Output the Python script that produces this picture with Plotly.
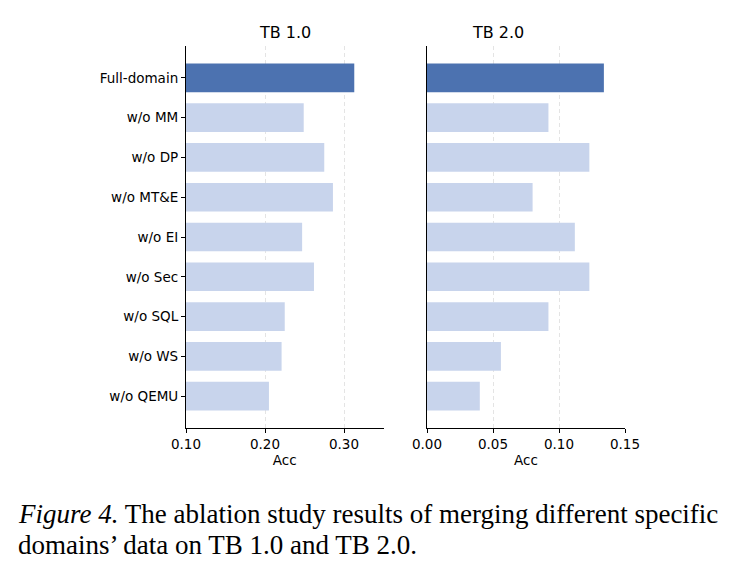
import plotly.graph_objects as go

categories = ["Full-domain", "w/o MM", "w/o DP", "w/o MT&E", "w/o EI",
              "w/o Sec", "w/o SQL", "w/o WS", "w/o QEMU"]
tb1_acc = [0.313, 0.249, 0.275, 0.286, 0.247, 0.262, 0.225, 0.221, 0.205]
tb2_acc = [0.134, 0.092, 0.123, 0.080, 0.112, 0.123, 0.092, 0.056, 0.040]
tb1_ticks = [0.10, 0.20, 0.30]
tb1_ticklabels = ["0.10", "0.20", "0.30"]
tb2_ticks = [0.00, 0.05, 0.10, 0.15]
tb2_ticklabels = ["0.00", "0.05", "0.10", "0.15"]

dark = "#4C72B0"
light = "#C8D4EC"
colors = [dark] + [light] * (len(categories) - 1)

fig = go.Figure()
fig.add_trace(go.Bar(y=categories, x=tb1_acc, orientation="h", base=0,
                     marker=dict(color=colors, line=dict(width=0)),
                     width=0.72, xaxis="x", yaxis="y", showlegend=False))
fig.add_trace(go.Bar(y=categories, x=tb2_acc, orientation="h",
                     marker=dict(color=colors, line=dict(width=0)),
                     width=0.72, xaxis="x2", yaxis="y2", showlegend=False))

font = dict(family="DejaVu Sans", size=13.5, color="black")
ydom = [1 - 428 / 574, 1 - 46 / 574]
common_x = dict(showline=True, linecolor="black", linewidth=1.2, ticks="outside",
                ticklen=4, tickwidth=1, tickcolor="black", showgrid=True,
                gridcolor="#e4e4e4", griddash="4px,3px", gridwidth=0.8,
                zeroline=False, tickfont=font, mirror=False, automargin=False,
                title=dict(text="Acc", font=font, standoff=4))
fig.update_layout(
    width=735, height=574, margin=dict(l=0, r=0, t=0, b=0, autoexpand=False),
    plot_bgcolor="white", paper_bgcolor="white", bargap=0.28,
    xaxis=dict(domain=[186 / 735, 383.5 / 735], range=[0.10, 0.35],
               tickvals=tb1_ticks, ticktext=tb1_ticklabels, anchor="y", **common_x),
    xaxis2=dict(domain=[427 / 735, 625 / 735], range=[0.0, 0.15],
                tickvals=tb2_ticks, ticktext=tb2_ticklabels, anchor="y2", **common_x),
    yaxis=dict(domain=ydom, range=[8.8, -0.8], categoryorder="array",
               categoryarray=categories, showline=True, linecolor="black",
               linewidth=1.2, ticks="outside", ticklen=4, tickcolor="black",
               showgrid=False, tickfont=font, anchor="x", zeroline=False,
               automargin=False),
    yaxis2=dict(domain=ydom, range=[8.8, -0.8], categoryorder="array",
                categoryarray=categories, showline=True, linecolor="black",
                linewidth=1.2, ticks="", showticklabels=False,
                showgrid=False, anchor="x2", zeroline=False, automargin=False),
    annotations=[
        dict(text="TB 1.0", x=(186 + 383.5) / 2 / 735, y=1 - 33 / 574, xref="paper",
             yref="paper", yanchor="middle", showarrow=False,
             font=dict(family="DejaVu Sans", size=16, color="black")),
        dict(text="TB 2.0", x=(427 + 625) / 2 / 735, y=1 - 33 / 574, xref="paper",
             yref="paper", yanchor="middle", showarrow=False,
             font=dict(family="DejaVu Sans", size=16, color="black")),
        dict(text="<i>Figure 4.</i> The ablation study results of merging different specific",
             x=16 / 735, y=1 - 531 / 574, xref="paper", yref="paper", xanchor="left",
             showarrow=False, font=dict(family="Liberation Serif", size=27, color="black")),
        dict(text="domains’ data on TB 1.0 and TB 2.0.",
             x=16 / 735, y=1 - 562 / 574, xref="paper", yref="paper", xanchor="left",
             showarrow=False, font=dict(family="Liberation Serif", size=27, color="black")),
    ],
)
fig.write_html("out.html")
